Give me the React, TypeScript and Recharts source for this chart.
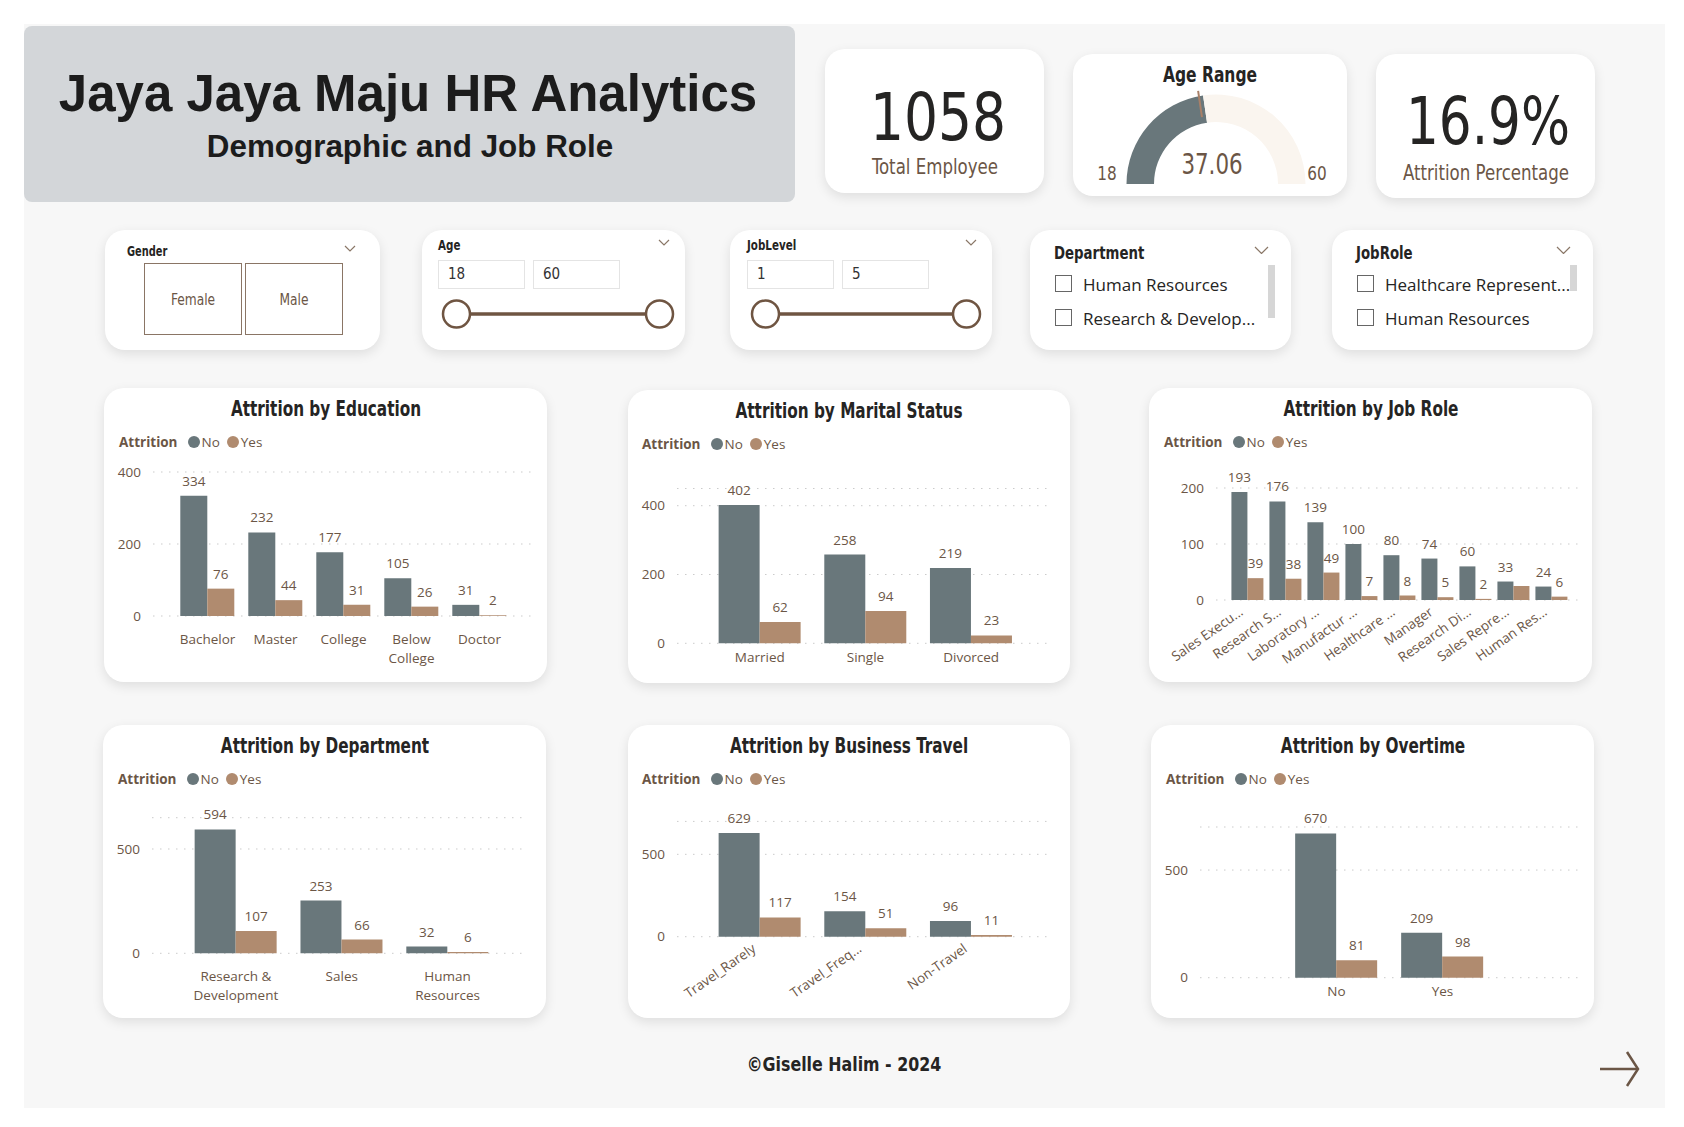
import type { CSSProperties, ReactNode } from "react";
import { Bar, BarChart, CartesianGrid, Cell, LabelList, Pie, PieChart, Text, XAxis, YAxis } from "recharts";

const NO_COLOR = "#69777b";
const YES_COLOR = "#b08b6f";
const INK = "#6b5646";
const DARK = "#252423";
const SANS = "'Open Sans', 'Noto Sans', sans-serif";
const DIN = "'Liberation Sans Narrow', 'DejaVu Sans Condensed', sans-serif";
const ARIAL = "'Liberation Sans', Arial, sans-serif";

// ---- data ----
const totalEmployees = 1058;
const attritionPct = 16.9;
const ageMin = 18;
const ageMax = 60;
const ageAverage = 37.06;

const educationLevels = ["Bachelor", "Master", "College", "Below College", "Doctor"];
const educationNo = [334, 232, 177, 105, 31];
const educationYes = [76, 44, 31, 26, 2];

const maritalStatus = ["Married", "Single", "Divorced"];
const maritalNo = [402, 258, 219];
const maritalYes = [62, 94, 23];

const jobRoles = [
  "Sales Execu...",
  "Research S...",
  "Laboratory ...",
  "Manufactur ...",
  "Healthcare ...",
  "Manager",
  "Research Di...",
  "Sales Repre...",
  "Human Res...",
];
const jobRoleNo = [193, 176, 139, 100, 80, 74, 60, 33, 24];
const jobRoleYes = [39, 38, 49, 7, 8, 5, 2, 25, 6];
const jobRoleYesNoLabel = [7]; // Power BI dropped this data label

const departments = ["Research & Development", "Sales", "Human Resources"];
const departmentNo = [594, 253, 32];
const departmentYes = [107, 66, 6];

const travelTypes = ["Travel_Rarely", "Travel_Freq...", "Non-Travel"];
const travelNo = [629, 154, 96];
const travelYes = [117, 51, 11];

const overtimeValues = ["No", "Yes"];
const overtimeNo = [670, 209];
const overtimeYes = [81, 98];

type Row = { label: string; no: number; yes: number; yesLabel: number | null };

const toRows = (labels: string[], no: number[], yes: number[], noLabel: number[] = []): Row[] =>
  labels.map((label, i) => ({
    label,
    no: no[i],
    yes: yes[i],
    yesLabel: noLabel.includes(i) ? null : yes[i],
  }));

type Box = { x: number; y: number; w: number; h: number };

function Card({ box, radius = 20 }: { box: Box; radius?: number }) {
  return (
    <div
      style={{
        position: "absolute",
        left: box.x,
        top: box.y,
        width: box.w,
        height: box.h,
        background: "#fff",
        borderRadius: radius,
        boxShadow: "0 4px 12px rgba(0,0,0,0.10)",
      }}
    />
  );
}

// sx squeezes the condensed fallback font towards the DIN look of the report
function Txt({
  x,
  cy,
  size,
  font = SANS,
  weight = 400,
  color = DARK,
  align = "center",
  sx = 1,
  children,
}: {
  x: number;
  cy: number;
  size: number;
  font?: string;
  weight?: number;
  color?: string;
  align?: "center" | "left";
  sx?: number;
  children: ReactNode;
}) {
  const style: CSSProperties = {
    position: "absolute",
    left: x,
    top: cy,
    transform:
      align === "center" ? `translate(-50%, -50%) scaleX(${sx})` : `translateY(-50%) scaleX(${sx})`,
    transformOrigin: align === "center" ? "50% 50%" : "0 50%",
    fontFamily: font,
    fontSize: size,
    fontWeight: weight,
    color,
    lineHeight: 1,
    whiteSpace: "nowrap",
  };
  return <div style={style}>{children}</div>;
}

function Legend({ x, cy }: { x: number; cy: number }) {
  const dot = (c: string) => (
    <span style={{ width: 12, height: 12, borderRadius: 6, background: c, display: "inline-block" }} />
  );
  return (
    <div
      style={{
        position: "absolute",
        left: x,
        top: cy - 10,
        height: 20,
        display: "flex",
        alignItems: "center",
        fontFamily: SANS,
        fontSize: 13.5,
        color: INK,
        whiteSpace: "nowrap",
      }}
    >
      <span style={{ fontWeight: 700, marginRight: 10 }}>Attrition</span>
      {dot(NO_COLOR)}
      <span style={{ marginLeft: 2, marginRight: 7 }}>No</span>
      {dot(YES_COLOR)}
      <span style={{ marginLeft: 2 }}>Yes</span>
    </div>
  );
}

const wrapTick = (width: number, base: number) => (props: any) => (
  <Text
    x={props.x}
    y={props.y + base - 9.6}
    width={width}
    textAnchor="middle"
    verticalAnchor="start"
    lineHeight={19}
    fill={INK}
    fontSize={13.5}
    fontFamily={SANS}
    style={{ fontSize: 13.5, fontFamily: SANS }}
  >
    {props.payload.value}
  </Text>
);

const angleTick = (props: any) => (
  <g transform={`translate(${props.x - 3},${props.y + 14})`}>
    <text textAnchor="end" transform="rotate(-35)" fill={INK} fontSize={13.5} fontFamily={SANS}>
      {props.payload.value}
    </text>
  </g>
);

type PanelProps = {
  card: Box;
  title: string;
  titleCy: number;
  legendCy: number;
  legendX: number;
  data: Row[];
  plot: { l: number; r: number; t: number; b: number };
  yMax: number;
  ticks: number[];
  padL: number;
  padR: number;
  gap: string;
  tick: (props: any) => any;
};

function BarPanel({ card, title, titleCy, legendCy, legendX, data, plot, yMax, ticks, padL, padR, gap, tick }: PanelProps) {
  const labelStyle = { fill: INK, fontSize: 13.5, fontFamily: SANS };
  return (
    <>
      <Card box={card} />
      <Txt x={card.x + card.w / 2} cy={titleCy} size={21.5} font={DIN} weight={700} sx={0.79}>
        {title}
      </Txt>
      <Legend x={legendX} cy={legendCy} />
      <div style={{ position: "absolute", left: card.x, top: card.y }}>
        <BarChart
          width={card.w}
          height={card.h}
          data={data}
          margin={{ top: plot.t - card.y, right: card.x + card.w - plot.r, bottom: 0, left: 0 }}
          barCategoryGap={gap}
          barGap={0}
        >
          <CartesianGrid vertical={false} stroke="#cbcbcb" strokeDasharray="1.5 6.5" />
          <XAxis
            dataKey="label"
            height={card.y + card.h - plot.b}
            axisLine={false}
            tickLine={false}
            tickSize={0}
            tickMargin={0}
            interval={0}
            padding={{ left: padL, right: padR }}
            tick={tick}
          />
          <YAxis
            width={plot.l - card.x}
            domain={[0, yMax]}
            ticks={ticks}
            axisLine={false}
            tickLine={false}
            tickSize={0}
            tickMargin={12}
            tick={labelStyle}
          />
          <Bar dataKey="no" fill={NO_COLOR} isAnimationActive={false}>
            <LabelList dataKey="no" position="top" offset={10} {...labelStyle} />
          </Bar>
          <Bar dataKey="yes" fill={YES_COLOR} isAnimationActive={false}>
            <LabelList dataKey="yesLabel" position="top" offset={10} {...labelStyle} />
          </Bar>
        </BarChart>
      </div>
    </>
  );
}

function Chevron({ cx, cy, w = 10 }: { cx: number; cy: number; w?: number }) {
  return (
    <svg style={{ position: "absolute", left: cx - w / 2 - 1, top: cy - w / 4 - 1 }} width={w + 2} height={w / 2 + 2}>
      <polyline points={`1,1 ${w / 2 + 1},${w / 2 + 1} ${w + 1},1`} fill="none" stroke="#8a7767" strokeWidth={1.2} />
    </svg>
  );
}

function RangeSlicer({ card, title, lo, hi, boxX }: { card: Box; title: string; lo: number; hi: number; boxX: number }) {
  const input = (x: number, v: number) => (
    <div
      style={{
        position: "absolute",
        left: x,
        top: 260,
        width: 87,
        height: 29,
        boxSizing: "border-box",
        border: "1px solid #e4e4e4",
        fontFamily: DIN,
        fontSize: 15,
        color: "#333",
        lineHeight: "27px",
        paddingLeft: 9,
      }}
    >
      {v}
    </div>
  );
  const c1 = boxX + 18.5;
  const c2 = card.x + card.w - 25.5;
  return (
    <>
      <Card box={card} />
      <Txt x={boxX} cy={245} size={14} font={DIN} weight={700} align="left" sx={0.82}>
        {title}
      </Txt>
      <Chevron cx={card.x + card.w - 21} cy={242} />
      {input(boxX, lo)}
      {input(boxX + 95, hi)}
      <svg style={{ position: "absolute", left: 0, top: 290 }} width={1684} height={50}>
        <line x1={c1} x2={c2} y1={24} y2={24} stroke="#6f5542" strokeWidth={3.5} />
        <circle cx={c1} cy={24} r={13.5} fill="#fff" stroke="#6f5542" strokeWidth={2.5} />
        <circle cx={c2} cy={24} r={13.5} fill="#fff" stroke="#6f5542" strokeWidth={2.5} />
      </svg>
    </>
  );
}

function ListSlicer({ card, title, items, scroll }: { card: Box; title: string; items: string[]; scroll: [number, number] }) {
  return (
    <>
      <Card box={card} />
      <Txt x={card.x + 24} cy={253} size={18.5} font={DIN} weight={700} align="left" sx={0.8}>
        {title}
      </Txt>
      <Chevron cx={card.x + card.w - 30} cy={250} w={13} />
      {items.map((item, i) => (
        <div key={item}>
          <div
            style={{
              position: "absolute",
              left: card.x + 25,
              top: 275 + i * 33.5,
              width: 17,
              height: 17,
              boxSizing: "border-box",
              border: "1.5px solid #666",
              background: "#fff",
            }}
          />
          <Txt x={card.x + 53} cy={284 + i * 33.5} size={17} color={DARK} align="left">
            {item}
          </Txt>
        </div>
      ))}
      <div
        style={{
          position: "absolute",
          left: card.x + card.w - 23,
          top: scroll[0],
          width: 7,
          height: scroll[1] - scroll[0],
          background: "#d6d6d6",
        }}
      />
    </>
  );
}

const gaugeCard: Box = { x: 1073, y: 54, w: 274, h: 142 };
const gaugeCx = 138;
const gaugeCy = 125;
const gaugeData = [
  { name: "value", value: ageAverage - ageMin },
  { name: "rest", value: ageMax - ageAverage },
];
const gaugeColors = [NO_COLOR, "#faf5ef"];

function Gauge() {
  const angle = Math.PI * (1 - (ageAverage - ageMin) / (ageMax - ageMin));
  const ax = gaugeCx + Math.cos(angle) * 62.5;
  const ay = gaugeCy - Math.sin(angle) * 62.5;
  const bx = gaugeCx + Math.cos(angle) * 89;
  const by = gaugeCy - Math.sin(angle) * 89;
  return (
    <>
      <Card box={gaugeCard} />
      <div style={{ position: "absolute", left: gaugeCard.x, top: gaugeCard.y }}>
        <PieChart width={gaugeCard.w} height={gaugeCard.h}>
          <Pie
            data={gaugeData}
            dataKey="value"
            cx={gaugeCx}
            cy={gaugeCy}
            startAngle={180}
            endAngle={0}
            innerRadius={62}
            outerRadius={89.5}
            stroke="none"
            isAnimationActive={false}
          >
            {gaugeData.map((d, i) => (
              <Cell key={d.name} fill={gaugeColors[i]} />
            ))}
          </Pie>
        </PieChart>
        <svg style={{ position: "absolute", left: 0, top: 0 }} width={gaugeCard.w} height={gaugeCard.h}>
          <line x1={ax} y1={ay} x2={bx} y2={by} stroke="#a98068" strokeWidth={2} />
        </svg>
      </div>
      <Txt x={1210} cy={75} size={21} font={DIN} weight={700} sx={0.82}>
        Age Range
      </Txt>
      <Txt x={1211.5} cy={164} size={29} font={DIN} color={INK} sx={0.82}>
        {ageAverage.toFixed(2)}
      </Txt>
      <Txt x={1107} cy={173} size={20} font={DIN} color={INK} sx={0.85}>
        {ageMin}
      </Txt>
      <Txt x={1317} cy={173} size={20} font={DIN} color={INK} sx={0.85}>
        {ageMax}
      </Txt>
    </>
  );
}

export default function App() {
  return (
    <div style={{ position: "absolute", left: 0, top: 0, width: 1684, height: 1127, background: "#fff", overflow: "hidden" }}>
      <div style={{ position: "absolute", left: 24, top: 24, width: 1641, height: 1084, background: "#f7f7f7" }} />

      {/* header */}
      <div style={{ position: "absolute", left: 24, top: 26, width: 771, height: 176, background: "#d3d6d9", borderRadius: 8 }} />
      <Txt x={408} cy={93} size={51} font={ARIAL} weight={700} color="#1c1c1c">
        Jaya Jaya Maju HR Analytics
      </Txt>
      <Txt x={410} cy={147} size={31.4} font={ARIAL} weight={700} color="#1c1c1c">
        Demographic and Job Role
      </Txt>

      {/* KPI cards */}
      <Card box={{ x: 825, y: 49, w: 219, h: 144 }} />
      <Txt x={938} cy={118} size={66} font={DIN} color={DARK} sx={0.9}>
        {totalEmployees}
      </Txt>
      <Txt x={935} cy={167} size={22} font={DIN} color={INK} sx={0.84}>
        Total Employee
      </Txt>
      <Gauge />
      <Card box={{ x: 1376, y: 54, w: 219, h: 144 }} />
      <Txt x={1488} cy={122} size={66} font={DIN} color={DARK} sx={0.87}>
        {attritionPct.toFixed(1)}%
      </Txt>
      <Txt x={1486} cy={173} size={22} font={DIN} color={INK} sx={0.84}>
        Attrition Percentage
      </Txt>

      {/* slicers */}
      <Card box={{ x: 105, y: 230, w: 275, h: 120 }} />
      <Txt x={127} cy={251} size={14} font={DIN} weight={700} align="left" sx={0.78}>
        Gender
      </Txt>
      <Chevron cx={350} cy={248} />
      {["Female", "Male"].map((g, i) => (
        <div
          key={g}
          style={{
            position: "absolute",
            left: 144 + i * 101,
            top: 263,
            width: 98,
            height: 72,
            boxSizing: "border-box",
            border: "1.5px solid #8a7565",
            display: "flex",
            alignItems: "center",
            justifyContent: "center",
            fontFamily: DIN,
            fontSize: 16,
            color: INK,
          }}
        >
          <span style={{ display: "inline-block", transform: "scaleX(0.85)" }}>{g}</span>
        </div>
      ))}
      <RangeSlicer card={{ x: 422, y: 230, w: 263, h: 120 }} title="Age" lo={ageMin} hi={ageMax} boxX={438} />
      <RangeSlicer card={{ x: 730, y: 230, w: 262, h: 120 }} title="JobLevel" lo={1} hi={5} boxX={747} />
      <ListSlicer
        card={{ x: 1030, y: 230, w: 261, h: 120 }}
        title="Department"
        items={["Human Resources", "Research & Develop..."]}
        scroll={[265, 318]}
      />
      <ListSlicer
        card={{ x: 1332, y: 230, w: 261, h: 120 }}
        title="JobRole"
        items={["Healthcare Represent...", "Human Resources"]}
        scroll={[265, 291]}
      />

      {/* charts row 1 */}
      <BarPanel
        card={{ x: 104, y: 388, w: 443, h: 294 }}
        title="Attrition by Education"
        titleCy={409}
        legendCy={442}
        legendX={119}
        data={toRows(educationLevels, educationNo, educationYes)}
        plot={{ l: 153, r: 531, t: 472, b: 616 }}
        yMax={400}
        ticks={[0, 200, 400]}
        padL={20.5}
        padR={17.5}
        gap="10%"
        tick={wrapTick(64, 28)}
      />
      <BarPanel
        card={{ x: 628, y: 390, w: 442, h: 293 }}
        title="Attrition by Marital Status"
        titleCy={411}
        legendCy={444}
        legendX={642}
        data={toRows(maritalStatus, maritalNo, maritalYes)}
        plot={{ l: 677, r: 1053, t: 488.5, b: 643.3 }}
        yMax={450}
        ticks={[0, 200, 400]}
        padL={30}
        padR={29}
        gap="11%"
        tick={wrapTick(100, 18.7)}
      />
      <BarPanel
        card={{ x: 1149, y: 388, w: 443, h: 294 }}
        title="Attrition by Job Role"
        titleCy={409}
        legendCy={442}
        legendX={1164}
        data={toRows(jobRoles, jobRoleNo, jobRoleYes, jobRoleYesNoLabel)}
        plot={{ l: 1216, r: 1578, t: 488, b: 600 }}
        yMax={200}
        ticks={[0, 100, 200]}
        padL={12}
        padR={8}
        gap="9%"
        tick={angleTick}
      />

      {/* charts row 2 */}
      <BarPanel
        card={{ x: 103, y: 725, w: 443, h: 293 }}
        title="Attrition by Department"
        titleCy={746}
        legendCy={779}
        legendX={118}
        data={toRows(departments, departmentNo, departmentYes)}
        plot={{ l: 152, r: 528, t: 817.7, b: 953.3 }}
        yMax={650}
        ticks={[0, 500]}
        padL={31}
        padR={27.5}
        gap="11%"
        tick={wrapTick(95, 27.4)}
      />
      <BarPanel
        card={{ x: 628, y: 725, w: 442, h: 293 }}
        title="Attrition by Business Travel"
        titleCy={746}
        legendCy={779}
        legendX={642}
        data={toRows(travelTypes, travelNo, travelYes)}
        plot={{ l: 677, r: 1053, t: 821.4, b: 936.7 }}
        yMax={700}
        ticks={[0, 500]}
        padL={30}
        padR={29}
        gap="11%"
        tick={angleTick}
      />
      <BarPanel
        card={{ x: 1151, y: 725, w: 443, h: 293 }}
        title="Attrition by Overtime"
        titleCy={746}
        legendCy={779}
        legendX={1166}
        data={toRows(overtimeValues, overtimeNo, overtimeYes)}
        plot={{ l: 1200, r: 1578, t: 827, b: 977.7 }}
        yMax={700}
        ticks={[0, 500]}
        padL={83.5}
        padR={82.5}
        gap="11%"
        tick={wrapTick(100, 18.7)}
      />

      {/* footer */}
      <Txt x={844} cy={1064} size={20} font={DIN} weight={700} sx={0.88}>
        ©Giselle Halim - 2024
      </Txt>
      <svg style={{ position: "absolute", left: 1596, top: 1048 }} width={48} height={42}>
        <line x1={4} y1={21} x2={42} y2={21} stroke={INK} strokeWidth={2.5} />
        <polyline points="31,4 42,21 31,38" fill="none" stroke={INK} strokeWidth={2.5} />
      </svg>
    </div>
  );
}
